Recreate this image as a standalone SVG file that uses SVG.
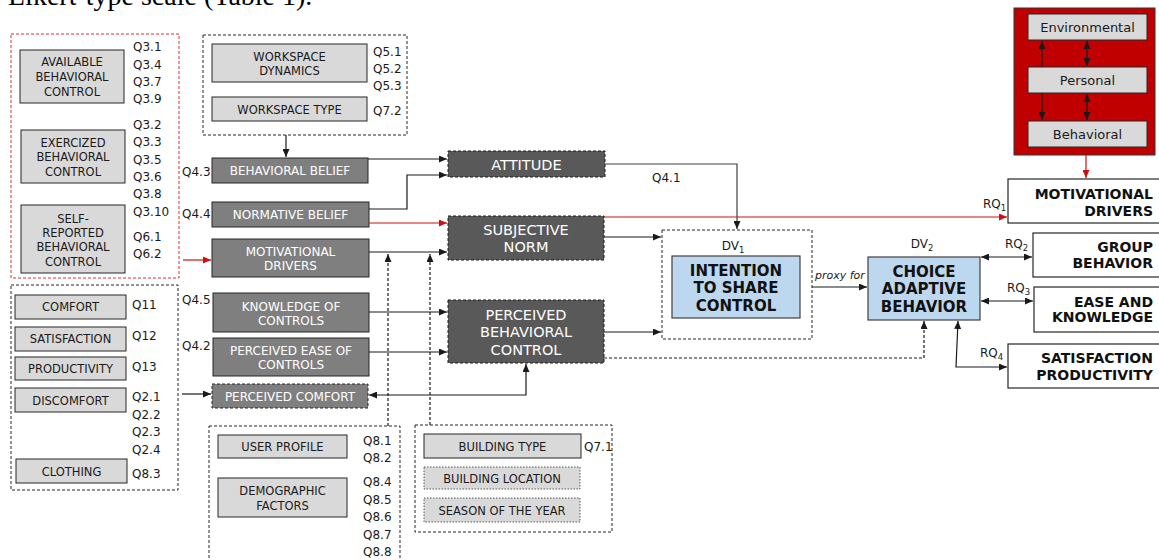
<svg xmlns="http://www.w3.org/2000/svg" width="1159" height="560" viewBox="0 0 1159 560">
<style>
.lg{fill:#D9D9D9;stroke:#262626;stroke-width:1}
.dk{fill:#7F7F7F;stroke:#262626;stroke-width:1}
.dkd{fill:#7F7F7F;stroke:#262626;stroke-width:1;stroke-dasharray:3 2}
.bg{fill:#595959;stroke:#1a1a1a;stroke-width:1;stroke-dasharray:3 2}
.bl{fill:#BDD7EE;stroke:#404040;stroke-width:1.2}
.wb{fill:#fff;stroke:#262626;stroke-width:1.2}
.grp{fill:none;stroke:#262626;stroke-width:1;stroke-dasharray:3 2}
.rgrp{fill:none;stroke:#E0302F;stroke-width:1;stroke-dasharray:3 2}
.dot{fill:#D9D9D9;stroke:#595959;stroke-width:1;stroke-dasharray:1.5 1.5}
.red{fill:#C00000;stroke:#333;stroke-width:1}
text{font-family:'DejaVu Sans',Verdana,sans-serif}
.t{font-size:11.5px;fill:#1a1a1a;text-anchor:middle}
.q{font-size:12px;fill:#1a1a1a}
.w{font-size:12px;fill:#fff;text-anchor:middle}
.W{font-size:14.5px;fill:#fff;text-anchor:middle}
.b{font-size:15px;font-weight:bold;fill:#111;text-anchor:middle}
.r{font-size:14px;font-weight:bold;fill:#111;text-anchor:end}
.c{fill:none;stroke:#1a1a1a;stroke-width:1.2}
.cd{fill:none;stroke:#1a1a1a;stroke-width:1.2;stroke-dasharray:3 2}
.cr{fill:none;stroke:#D01010;stroke-width:1.2}
</style>
<defs>
<marker id="a" viewBox="0 0 8 7" refX="8" refY="3.5" markerWidth="8" markerHeight="7" markerUnits="userSpaceOnUse" orient="auto-start-reverse"><path d="M0,0 L8,3.5 L0,7 z" fill="#1a1a1a"/></marker>
<marker id="ar" viewBox="0 0 8 7" refX="8" refY="3.5" markerWidth="8" markerHeight="7" markerUnits="userSpaceOnUse" orient="auto-start-reverse"><path d="M0,0 L8,3.5 L0,7 z" fill="#D01010"/></marker>
</defs>

<text x="8" y="5" style="font-family:'Liberation Serif',serif;font-size:28px;fill:#000">Likert-type scale (Table 1).</text>

<g id="control-group">
<rect class="rgrp" x="11" y="34" width="168" height="244"/>
<g id="available"><rect class="lg" x="20" y="50" width="104" height="53"/>
<text class="t" x="72" y="66">AVAILABLE</text><text class="t" x="72" y="81">BEHAVIORAL</text><text class="t" x="72" y="96">CONTROL</text></g>
<g id="exercized"><rect class="lg" x="21" y="130" width="104" height="53"/>
<text class="t" x="73" y="147">EXERCIZED</text><text class="t" x="73" y="161">BEHAVIORAL</text><text class="t" x="73" y="176">CONTROL</text></g>
<g id="self-reported"><rect class="lg" x="21" y="205" width="104" height="68"/>
<text class="t" x="73" y="223">SELF-</text><text class="t" x="73" y="237">REPORTED</text><text class="t" x="73" y="251">BEHAVIORAL</text><text class="t" x="73" y="266">CONTROL</text></g>
<text class="q" x="133" y="51">Q3.1</text><text class="q" x="133" y="68.5">Q3.4</text><text class="q" x="133" y="85.5">Q3.7</text><text class="q" x="133" y="103">Q3.9</text>
<text class="q" x="133" y="128.5">Q3.2</text><text class="q" x="133" y="146">Q3.3</text><text class="q" x="133" y="163.5">Q3.5</text><text class="q" x="133" y="181">Q3.6</text><text class="q" x="133" y="197.5">Q3.8</text><text class="q" x="133" y="216">Q3.10</text>
<text class="q" x="133" y="241">Q6.1</text><text class="q" x="133" y="258">Q6.2</text>
</g>

<g id="workspace-group">
<rect class="grp" x="203" y="35" width="204" height="100"/>
<g id="workspace-dynamics"><rect class="lg" x="212" y="44" width="155" height="38"/>
<text class="t" x="289.5" y="61">WORKSPACE</text><text class="t" x="289.5" y="75">DYNAMICS</text></g>
<g id="workspace-type"><rect class="lg" x="212" y="97" width="155" height="24"/>
<text class="t" x="289.5" y="113.5">WORKSPACE TYPE</text></g>
<text class="q" x="373" y="55.5">Q5.1</text><text class="q" x="373" y="72.5">Q5.2</text><text class="q" x="373" y="89.5">Q5.3</text><text class="q" x="373" y="114.5">Q7.2</text>
</g>

<g id="behavioral-belief"><rect class="dk" x="212" y="158" width="156" height="25"/><text class="w" x="290" y="175">BEHAVIORAL BELIEF</text></g>
<g id="normative-belief"><rect class="dk" x="212" y="202" width="157" height="25"/><text class="w" x="290.5" y="219">NORMATIVE BELIEF</text></g>
<g id="motivational-drivers"><rect class="dk" x="212" y="239" width="157" height="38"/><text class="w" x="290.5" y="256">MOTIVATIONAL</text><text class="w" x="290.5" y="270">DRIVERS</text></g>
<g id="knowledge"><rect class="dk" x="213" y="293" width="156" height="39"/><text class="w" x="291" y="310.5">KNOWLEDGE OF</text><text class="w" x="291" y="324.5">CONTROLS</text></g>
<g id="ease"><rect class="dk" x="213" y="338" width="156" height="38"/><text class="w" x="291" y="354.5">PERCEIVED EASE OF</text><text class="w" x="291" y="368.5">CONTROLS</text></g>
<g id="perceived-comfort"><rect class="dkd" x="212" y="384" width="156" height="24"/><text class="w" x="290" y="401">PERCEIVED COMFORT</text></g>
<text class="q" x="182" y="176">Q4.3</text><text class="q" x="182" y="218">Q4.4</text><text class="q" x="182" y="303.5">Q4.5</text><text class="q" x="182" y="349.5">Q4.2</text>

<g id="attitude"><rect class="bg" x="448" y="151" width="157" height="26"/><text class="W" x="526.5" y="170">ATTITUDE</text></g>
<g id="subjective-norm"><rect class="bg" x="448" y="216" width="156" height="44"/><text class="W" x="526" y="234.5">SUBJECTIVE</text><text class="W" x="526" y="252">NORM</text></g>
<g id="pbc"><rect class="bg" x="448" y="300" width="156" height="63"/><text class="W" x="526" y="319.5">PERCEIVED</text><text class="W" x="526" y="337">BEHAVIORAL</text><text class="W" x="526" y="354.5">CONTROL</text></g>

<g id="dv1">
<rect class="grp" x="662" y="230" width="150" height="109"/>
<text class="q" x="733" y="249.5" text-anchor="middle">DV<tspan font-size="8.5" dy="3">1</tspan></text>
<rect class="bl" x="672" y="256" width="128" height="62"/>
<text class="b" x="736" y="275.5">INTENTION</text><text class="b" x="736" y="292.5">TO SHARE</text><text class="b" x="736" y="310.5">CONTROL</text>
</g>
<g id="dv2">
<text class="q" x="922" y="247.5" text-anchor="middle">DV<tspan font-size="8.5" dy="3">2</tspan></text>
<rect class="bl" x="868" y="257" width="112" height="63"/>
<text class="b" x="924" y="277">CHOICE</text><text class="b" x="924" y="294">ADAPTIVE</text><text class="b" x="924" y="311.5">BEHAVIOR</text>
</g>

<g id="scb">
<rect class="red" x="1014" y="8" width="141" height="147"/>
<rect class="lg" x="1028" y="14" width="119" height="26"/><text x="1087.5" y="31.5" style="font-size:13px;fill:#1a1a1a;text-anchor:middle">Environmental</text>
<rect class="lg" x="1028" y="67" width="119" height="26"/><text x="1087.5" y="84.5" style="font-size:13px;fill:#1a1a1a;text-anchor:middle">Personal</text>
<rect class="lg" x="1028" y="121" width="119" height="26"/><text x="1087.5" y="138.5" style="font-size:13px;fill:#1a1a1a;text-anchor:middle">Behavioral</text>
</g>

<g id="rq1-box"><rect class="wb" x="1008" y="179" width="152" height="44"/><text class="r" x="1153" y="199">MOTIVATIONAL</text><text class="r" x="1153" y="216">DRIVERS</text></g>
<g id="rq2-box"><rect class="wb" x="1033" y="233" width="127" height="44"/><text class="r" x="1153" y="252">GROUP</text><text class="r" x="1153" y="268">BEHAVIOR</text></g>
<g id="rq3-box"><rect class="wb" x="1034" y="287" width="126" height="45"/><text class="r" x="1153" y="307">EASE AND</text><text class="r" x="1153" y="322">KNOWLEDGE</text></g>
<g id="rq4-box"><rect class="wb" x="1008" y="344" width="152" height="44"/><text class="r" x="1153" y="363">SATISFACTION</text><text class="r" x="1153" y="380">PRODUCTIVITY</text></g>

<g id="comfort-group">
<rect class="grp" x="11" y="285" width="167" height="205"/>
<g id="comfort"><rect class="lg" x="15" y="295" width="111" height="24"/><text class="t" x="70.5" y="311">COMFORT</text></g>
<g id="satisfaction"><rect class="lg" x="15" y="327" width="111" height="24"/><text class="t" x="70.5" y="343">SATISFACTION</text></g>
<g id="productivity"><rect class="lg" x="15" y="357" width="111" height="23"/><text class="t" x="70.5" y="372.5">PRODUCTIVITY</text></g>
<g id="discomfort"><rect class="lg" x="15" y="388" width="111" height="24"/><text class="t" x="70.5" y="404.5">DISCOMFORT</text></g>
<g id="clothing"><rect class="lg" x="16" y="459" width="111" height="24"/><text class="t" x="71.5" y="476">CLOTHING</text></g>
<text class="q" x="132" y="308.5">Q11</text><text class="q" x="132" y="339.5">Q12</text><text class="q" x="132" y="370.5">Q13</text>
<text class="q" x="132" y="400.5">Q2.1</text><text class="q" x="132" y="418.5">Q2.2</text><text class="q" x="132" y="436">Q2.3</text><text class="q" x="132" y="453.5">Q2.4</text><text class="q" x="132" y="477.5">Q8.3</text>
</g>

<g id="user-group">
<rect class="grp" x="209" y="426" width="191" height="150"/>
<g id="user-profile"><rect class="lg" x="218" y="435" width="129" height="23"/><text class="t" x="282.5" y="451">USER PROFILE</text></g>
<g id="demographic"><rect class="lg" x="218" y="478" width="129" height="39"/><text class="t" x="282.5" y="495">DEMOGRAPHIC</text><text class="t" x="282.5" y="509.5">FACTORS</text></g>
<text class="q" x="363" y="444.5">Q8.1</text><text class="q" x="363" y="461.5">Q8.2</text><text class="q" x="363" y="486">Q8.4</text><text class="q" x="363" y="503.5">Q8.5</text><text class="q" x="363" y="521">Q8.6</text><text class="q" x="363" y="538.5">Q8.7</text><text class="q" x="363" y="556">Q8.8</text>
</g>

<g id="building-group">
<rect class="grp" x="415" y="425" width="197" height="107"/>
<g id="building-type"><rect class="lg" x="424" y="434" width="157" height="24"/><text class="t" x="502.5" y="451">BUILDING TYPE</text></g>
<g id="building-location"><rect class="dot" x="424" y="467" width="156" height="22"/><text class="t" x="502" y="482.5">BUILDING LOCATION</text></g>
<g id="season"><rect class="dot" x="424" y="498" width="156" height="24"/><text class="t" x="502" y="515">SEASON OF THE YEAR</text></g>
<text class="q" x="584" y="451">Q7.1</text>
</g>

<g id="connectors">
<path class="c" d="M286,135 V157" marker-end="url(#a)"/>
<path class="c" d="M368,159 H447" marker-end="url(#a)"/>
<path class="c" d="M369,209 H407 V175 H447" marker-end="url(#a)"/>
<path class="cr" d="M369,223 H447" marker-end="url(#ar)"/>
<path class="c" d="M369,252 H447" marker-end="url(#a)"/>
<path class="cr" d="M183,260 H211" marker-end="url(#ar)"/>
<path class="c" d="M369,312 H447" marker-end="url(#a)"/>
<path class="c" d="M369,352 H447" marker-end="url(#a)"/>
<path class="c" d="M182,394 H211" marker-end="url(#a)"/>
<path class="c" d="M526,364 V395 H369" marker-start="url(#a)" marker-end="url(#a)"/>
<path class="cd" d="M388,426 V254" marker-end="url(#a)"/>
<path class="cd" d="M430,425 V254" marker-end="url(#a)"/>
<path class="c" d="M605,164 H737 V229" style="stroke:#404040" marker-end="url(#a)"/>
<path class="c" d="M604,237 H661" marker-end="url(#a)"/>
<path class="c" d="M604,332 H661" marker-end="url(#a)"/>
<path class="cd" d="M604,358 H924 V321" marker-end="url(#a)"/>
<path class="c" d="M812,287 H867" marker-end="url(#a)"/>
<path class="cr" d="M604,217 H1007" marker-end="url(#ar)"/>
<path class="cr" d="M1086,155 V178" marker-end="url(#ar)"/>
<path class="c" d="M981,257 H1032" marker-start="url(#a)" marker-end="url(#a)"/>
<path class="c" d="M981,301 H1033" marker-start="url(#a)" marker-end="url(#a)"/>
<path class="c" d="M958,321 L956,367 H1007" marker-start="url(#a)" marker-end="url(#a)"/>
<path class="c" d="M1042,67 V41" marker-end="url(#a)"/>
<path class="c" d="M1087,41 V66" marker-start="url(#a)" marker-end="url(#a)"/>
<path class="c" d="M1042,93 V120" marker-end="url(#a)"/>
<path class="c" d="M1087,94 V120" marker-start="url(#a)" marker-end="url(#a)"/>
<text class="q" x="652" y="181.5">Q4.1</text>
<text x="815" y="279" style="font-size:11px;font-style:italic;fill:#1a1a1a">proxy for</text>
<text class="q" x="983" y="207.5">RQ<tspan font-size="8.5" dy="3">1</tspan></text>
<text class="q" x="1005" y="247.5">RQ<tspan font-size="8.5" dy="3">2</tspan></text>
<text class="q" x="1007" y="291.5">RQ<tspan font-size="8.5" dy="3">3</tspan></text>
<text class="q" x="980" y="356.5">RQ<tspan font-size="8.5" dy="3">4</tspan></text>
</g>
</svg>
